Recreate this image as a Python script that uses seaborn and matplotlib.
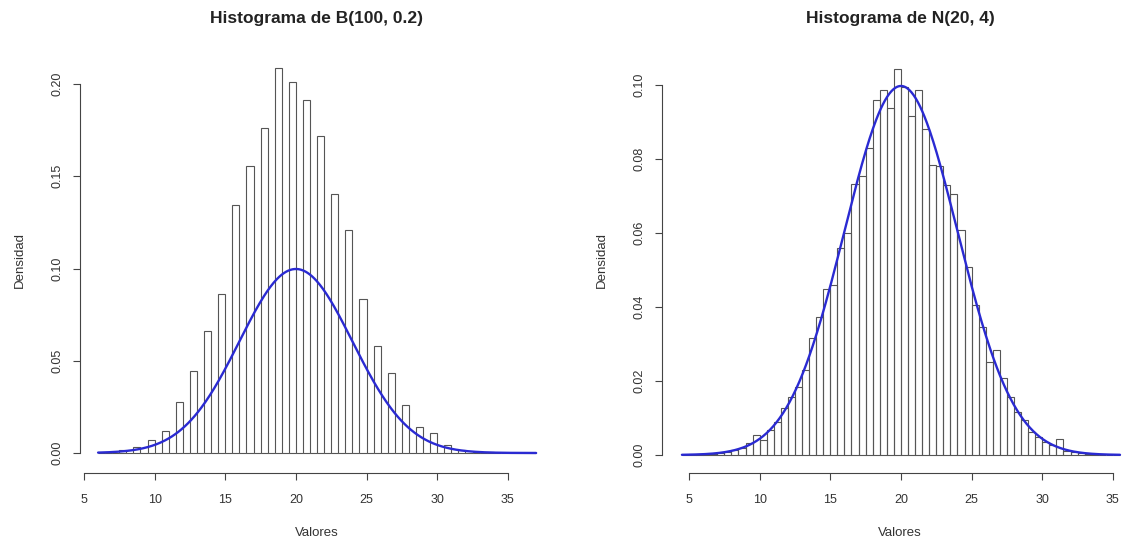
import numpy as np
import pandas as pd
import matplotlib
matplotlib.use("Agg")
import matplotlib.pyplot as plt
import seaborn as sns

# ---------------- data ----------------
# Left: histogram (density) of B(100, 0.2) samples, bins of width 0.5 over [6, 37]
binom_values = [7, 8, 9, 10, 11, 12, 13, 14, 15, 16, 17, 18, 19, 20,
                21, 22, 23, 24, 25, 26, 27, 28, 29, 30, 31, 32, 33, 34]
binom_density = [0.0005, 0.0015, 0.0030, 0.0070, 0.0120, 0.0276, 0.0444,
                 0.0663, 0.0862, 0.1344, 0.1556, 0.1760, 0.2085, 0.2009,
                 0.1913, 0.1718, 0.1404, 0.1209, 0.0833, 0.0580, 0.0435,
                 0.0260, 0.0143, 0.0107, 0.0043, 0.0015, 0.0004, 0.0003]
binom_range = (6.0, 37.0)

# Right: histogram (density) of N(20, 4) samples, bins of width 0.5 over [4.5, 35.5]
normal_range = (4.5, 35.5)
normal_density = [0.0001, 0.0002, 0.0002, 0.0003, 0.0004, 0.0006, 0.0009,
                  0.0014, 0.0018, 0.0033, 0.0054, 0.0040, 0.0068, 0.0090,
                  0.0126, 0.0158, 0.0185, 0.0230, 0.0315, 0.0374, 0.0448,
                  0.0460, 0.0560, 0.0600, 0.0732, 0.0754, 0.0830, 0.0960,
                  0.0986, 0.0937, 0.1043, 0.0995, 0.0916, 0.0986, 0.0880,
                  0.0784, 0.0780, 0.0730, 0.0705, 0.0608, 0.0509, 0.0405,
                  0.0347, 0.0252, 0.0284, 0.0207, 0.0158, 0.0117, 0.0095,
                  0.0063, 0.0050, 0.0036, 0.0027, 0.0042, 0.0012, 0.0008,
                  0.0005, 0.0003, 0.0002, 0.0001, 0.0001, 0.0001]
bin_width = 0.5

# Theoretical normal curve parameters N(mu = 20, sd = 4)
mu, sd = 20.0, 4.0

x_ticks = [5, 10, 15, 20, 25, 30, 35]
left_yticks = [0.00, 0.05, 0.10, 0.15, 0.20]
right_yticks = [0.00, 0.02, 0.04, 0.06, 0.08, 0.10]
titles = ["Histograma de B(100, 0.2)", "Histograma de N(20, 4)"]
x_label = "Valores"
y_label = "Densidad"

# ---------------- styling ----------------
sns.set_style("ticks")
plt.rcParams["font.family"] = ["Liberation Sans", "DejaVu Sans"]

EDGE = "#555555"
AXC = "#444444"
TXT = "#333333"
BLUE = "#2a2ad2"

W, H = 1123, 543
fig = plt.figure(figsize=(W / 100, H / 100), dpi=100)


def px_axes(l, r, t, b):
    return fig.add_axes([l / W, 1 - b / H, (r - l) / W, (b - t) / H])


def normal_pdf(x):
    return np.exp(-0.5 * ((x - mu) / sd) ** 2) / (sd * np.sqrt(2 * np.pi))


def style_axis(ax, yticks, ylims, xlims, title, ylab_x):
    ax.set_xlim(*xlims)
    ax.set_ylim(*ylims)
    ax.set_xticks(x_ticks)
    ax.set_xticklabels([str(t) for t in x_ticks])
    ax.set_yticks(yticks)
    ax.set_yticklabels([f"{t:.2f}" for t in yticks])
    sns.despine(ax=ax)
    ax.spines["left"].set_bounds(yticks[0], yticks[-1])
    ax.spines["bottom"].set_bounds(x_ticks[0], x_ticks[-1])
    ax.spines["bottom"].set_position(("outward", 3.6))
    for s in ("left", "bottom"):
        ax.spines[s].set_color(AXC)
        ax.spines[s].set_linewidth(0.8)
    ax.tick_params(axis="both", direction="out", length=5, width=0.8,
                   color=AXC, labelsize=9, labelcolor=TXT)
    ax.tick_params(axis="x", pad=10)
    ax.tick_params(axis="y", pad=7, labelrotation=90)
    for lab in ax.get_yticklabels():
        lab.set_va("center")
    ax.set_xlabel(x_label, fontsize=9.5, color=TXT)
    ax.set_ylabel(y_label, fontsize=9.5, color=TXT)
    ax.xaxis.label.set_va("center")
    ax.yaxis.label.set_va("center")
    ax.yaxis.label.set_ha("center")
    ax.xaxis.set_label_coords(0.5, -(533 - 468) / 415)
    ax.yaxis.set_label_coords(ylab_x, 0.5)
    ax.set_title(title, fontsize=12.5, fontweight="bold", color="#222222",
                 pad=0, y=1 + (53 - 23) / 415)


# ---------------- left panel ----------------
ax1 = px_axes(80, 554, 53, 468)
df1 = pd.DataFrame({"valor": np.array(binom_values, dtype=float) - bin_width / 2,
                    "densidad": binom_density})
sns.histplot(data=df1, x="valor", weights="densidad", binwidth=bin_width,
             binrange=binom_range, stat="count",
             fill=False, color=EDGE, linewidth=0.8, ax=ax1)
xs1 = np.linspace(binom_range[0], binom_range[1], 400)
sns.lineplot(x=xs1, y=normal_pdf(xs1), color=BLUE, linewidth=1.7, ax=ax1)
style_axis(ax1, left_yticks, (-(468 - 453) / 1845, (453 - 53) / 1845),
           (4.72, 4.72 + 474 / 14.13), titles[0], ylab_x=(20 - 80) / 474)

# ---------------- right panel ----------------
ax2 = px_axes(662, 1138, 53, 468)
n_bins2 = len(normal_density)
df2 = pd.DataFrame({"valor": normal_range[0] + bin_width * (np.arange(n_bins2) + 0.5),
                    "densidad": normal_density})
sns.histplot(data=df2, x="valor", weights="densidad", binwidth=bin_width,
             binrange=normal_range, stat="count",
             fill=False, color=EDGE, linewidth=0.8, ax=ax2)
xs2 = np.linspace(normal_range[0], normal_range[1], 400)
sns.lineplot(x=xs2, y=normal_pdf(xs2), color=BLUE, linewidth=1.7, ax=ax2)
style_axis(ax2, right_yticks, (-(468 - 455) / 3700, (455 - 53) / 3700),
           (3.089, 3.089 + 476 / 14.13), titles[1], ylab_x=(602 - 662) / 476)

fig.savefig("out.png", dpi=100)
